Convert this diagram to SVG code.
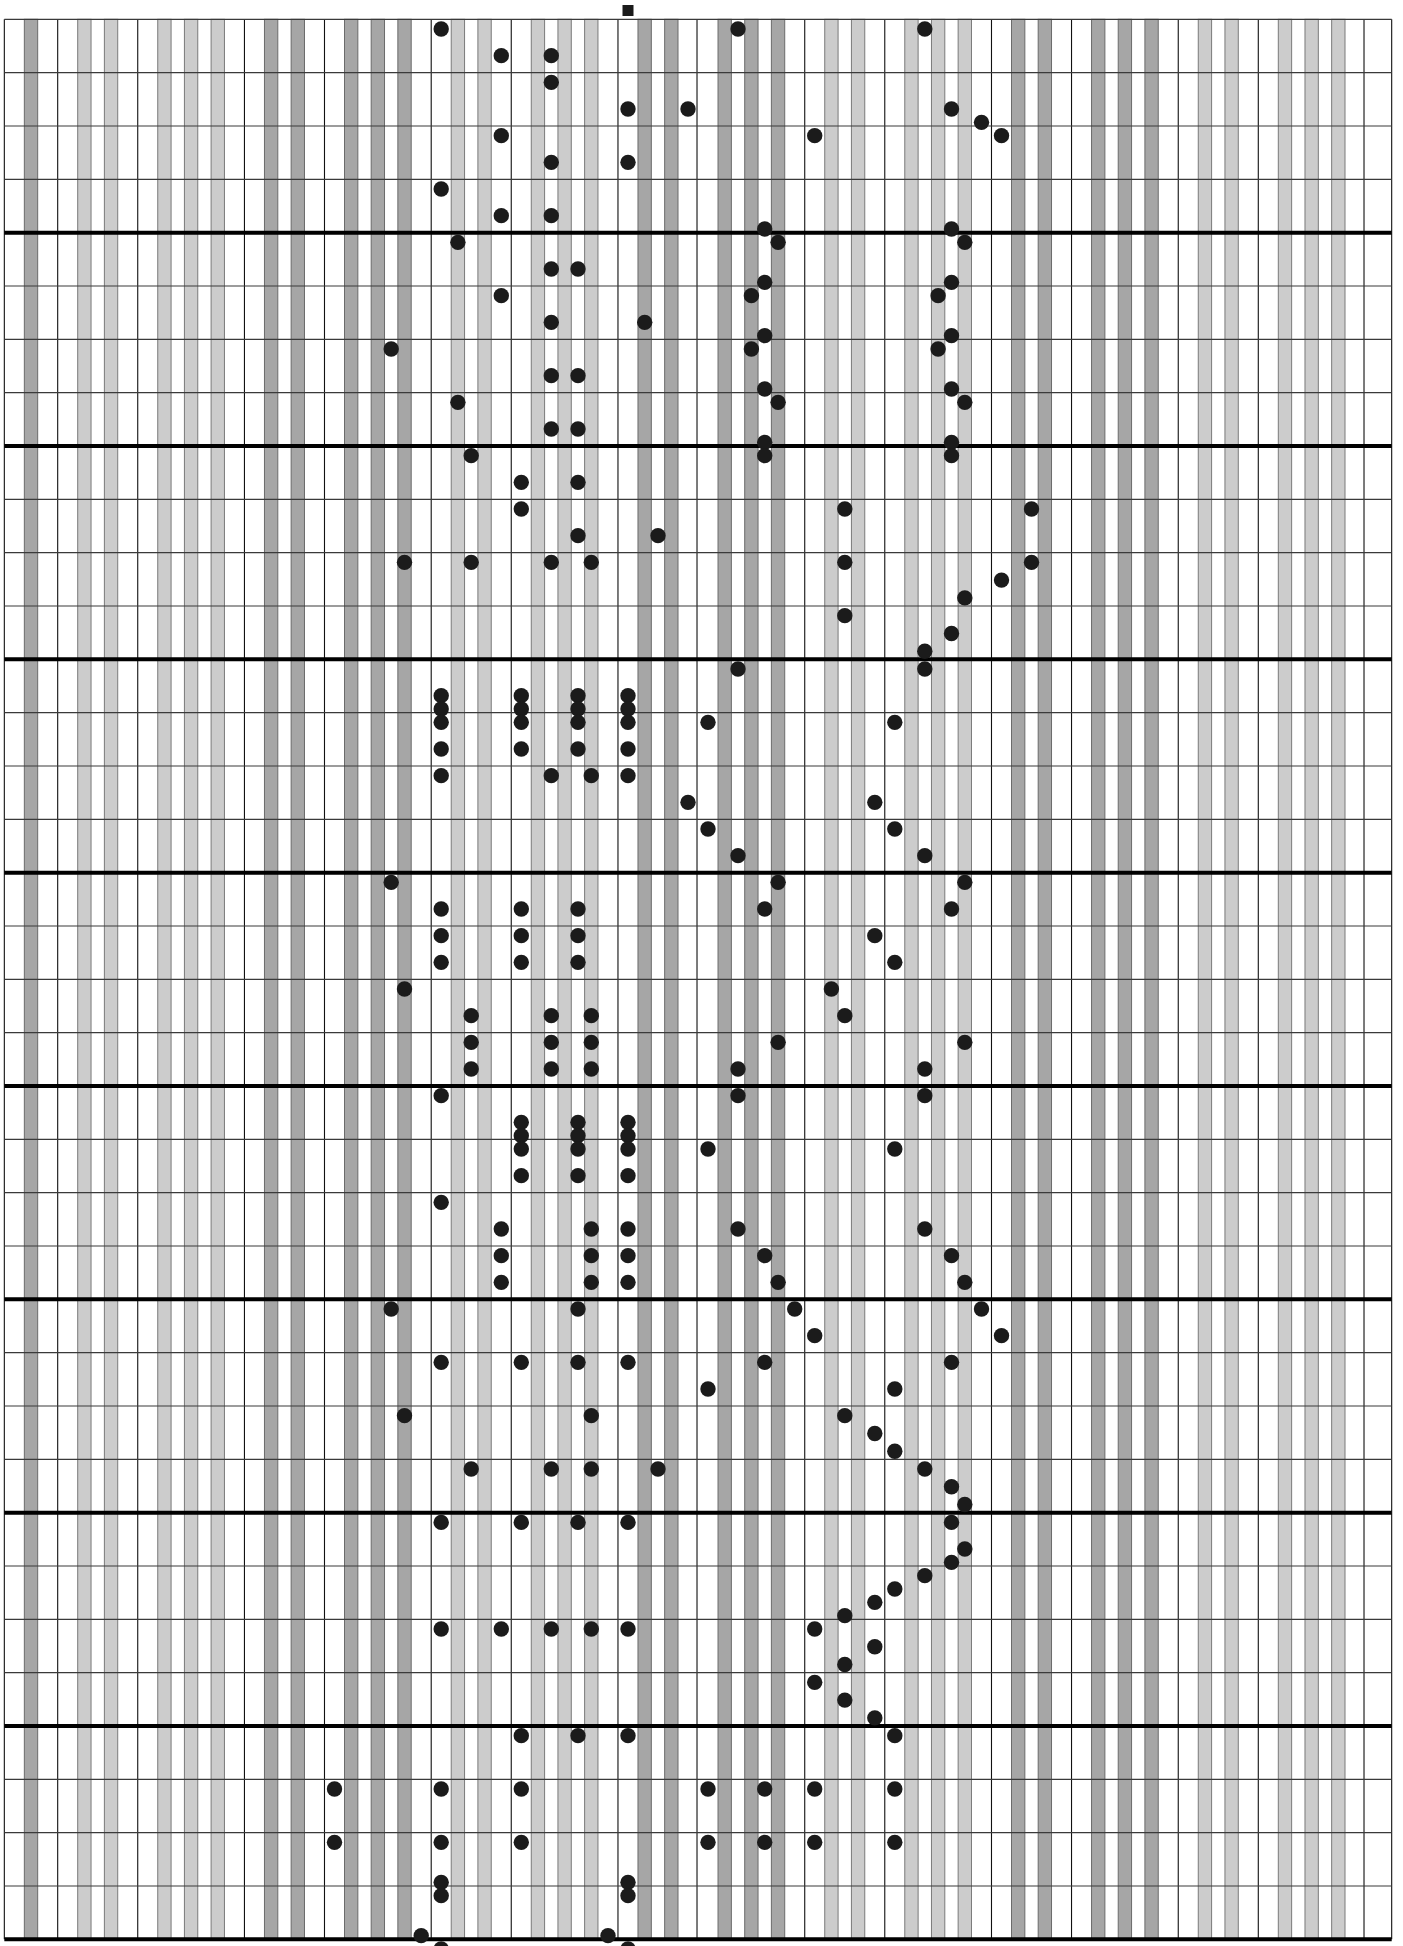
<svg xmlns="http://www.w3.org/2000/svg" width="1403" height="1946" viewBox="0 0 1403 1946">
<style>
.sd{fill:#a6a6a6;stroke:#6b6b6b;stroke-width:1}
.sl{fill:#cccccc;stroke:#7a7a7a;stroke-width:1}
.v{fill:none;stroke:#111;stroke-width:1.1}
.h{fill:none;stroke:#3a3a3a;stroke-width:1.1}
.hb{fill:none;stroke:#000;stroke-width:4}
.n{fill:#1b1b1b}
</style>
<defs><circle id="d" r="7.7" class="n"/></defs>
<rect x="0" y="0" width="1403" height="1946" fill="#fff"/>
<g id="stripes">
<rect class="sd" x="24.34" y="19.33" width="13.34" height="1920"/>
<rect class="sl" x="77.70" y="19.33" width="13.34" height="1920"/>
<rect class="sl" x="104.38" y="19.33" width="13.34" height="1920"/>
<rect class="sl" x="157.74" y="19.33" width="13.34" height="1920"/>
<rect class="sl" x="184.42" y="19.33" width="13.34" height="1920"/>
<rect class="sl" x="211.10" y="19.33" width="13.34" height="1920"/>
<rect class="sd" x="264.46" y="19.33" width="13.34" height="1920"/>
<rect class="sd" x="291.14" y="19.33" width="13.34" height="1920"/>
<rect class="sd" x="344.50" y="19.33" width="13.34" height="1920"/>
<rect class="sd" x="371.18" y="19.33" width="13.34" height="1920"/>
<rect class="sd" x="397.86" y="19.33" width="13.34" height="1920"/>
<rect class="sl" x="451.22" y="19.33" width="13.34" height="1920"/>
<rect class="sl" x="477.90" y="19.33" width="13.34" height="1920"/>
<rect class="sl" x="531.26" y="19.33" width="13.34" height="1920"/>
<rect class="sl" x="557.94" y="19.33" width="13.34" height="1920"/>
<rect class="sl" x="584.62" y="19.33" width="13.34" height="1920"/>
<rect class="sd" x="637.98" y="19.33" width="13.34" height="1920"/>
<rect class="sd" x="664.66" y="19.33" width="13.34" height="1920"/>
<rect class="sd" x="718.02" y="19.33" width="13.34" height="1920"/>
<rect class="sd" x="744.70" y="19.33" width="13.34" height="1920"/>
<rect class="sd" x="771.38" y="19.33" width="13.34" height="1920"/>
<rect class="sl" x="824.74" y="19.33" width="13.34" height="1920"/>
<rect class="sl" x="851.42" y="19.33" width="13.34" height="1920"/>
<rect class="sl" x="904.78" y="19.33" width="13.34" height="1920"/>
<rect class="sl" x="931.46" y="19.33" width="13.34" height="1920"/>
<rect class="sl" x="958.14" y="19.33" width="13.34" height="1920"/>
<rect class="sd" x="1011.50" y="19.33" width="13.34" height="1920"/>
<rect class="sd" x="1038.18" y="19.33" width="13.34" height="1920"/>
<rect class="sd" x="1091.54" y="19.33" width="13.34" height="1920"/>
<rect class="sd" x="1118.22" y="19.33" width="13.34" height="1920"/>
<rect class="sd" x="1144.90" y="19.33" width="13.34" height="1920"/>
<rect class="sl" x="1198.26" y="19.33" width="13.34" height="1920"/>
<rect class="sl" x="1224.94" y="19.33" width="13.34" height="1920"/>
<rect class="sl" x="1278.30" y="19.33" width="13.34" height="1920"/>
<rect class="sl" x="1304.98" y="19.33" width="13.34" height="1920"/>
<rect class="sl" x="1331.66" y="19.33" width="13.34" height="1920"/>
</g>
<g id="grid">
<path class="v" d="M4.33 19.33V1939.33M57.69 19.33V1939.33M137.73 19.33V1939.33M244.45 19.33V1939.33M324.49 19.33V1939.33M431.21 19.33V1939.33M511.25 19.33V1939.33M617.97 19.33V1939.33M697.01 19.33V1939.33M804.73 19.33V1939.33M884.77 19.33V1939.33M991.49 19.33V1939.33M1071.53 19.33V1939.33M1178.25 19.33V1939.33M1258.29 19.33V1939.33M1364.01 19.33V1939.33M1391.69 19.33V1939.33"/>
<path class="h" d="M4.33 19.33H1391.69M4.33 72.67H1391.69M4.33 126H1391.69M4.33 179.33H1391.69M4.33 286H1391.69M4.33 339.33H1391.69M4.33 392.67H1391.69M4.33 499.33H1391.69M4.33 552.67H1391.69M4.33 606H1391.69M4.33 712.67H1391.69M4.33 766H1391.69M4.33 819.33H1391.69M4.33 926H1391.69M4.33 979.33H1391.69M4.33 1032.67H1391.69M4.33 1139.33H1391.69M4.33 1192.67H1391.69M4.33 1246H1391.69M4.33 1352.67H1391.69M4.33 1406H1391.69M4.33 1459.33H1391.69M4.33 1566H1391.69M4.33 1619.33H1391.69M4.33 1672.67H1391.69M4.33 1779.33H1391.69M4.33 1832.67H1391.69M4.33 1886H1391.69"/>
<path class="hb" d="M4.33 232.67H1391.69M4.33 446H1391.69M4.33 659.33H1391.69M4.33 872.67H1391.69M4.33 1086H1391.69M4.33 1299.33H1391.69M4.33 1512.67H1391.69M4.33 1726H1391.69M4.33 1939.33H1391.69"/>
</g>
<rect id="marker" x="622.5" y="5" width="11" height="11" class="n"/>
<g id="notes">
<use href="#d" x="441.2" y="29"/><use href="#d" x="738.0" y="29"/><use href="#d" x="924.8" y="29"/>
<use href="#d" x="501.3" y="55.67"/><use href="#d" x="551.3" y="55.67"/>
<use href="#d" x="551.3" y="82.33"/>
<use href="#d" x="628.0" y="109"/><use href="#d" x="688.0" y="109"/><use href="#d" x="951.5" y="109"/>
<use href="#d" x="981.5" y="122.33"/>
<use href="#d" x="501.3" y="135.67"/><use href="#d" x="814.7" y="135.67"/><use href="#d" x="1001.5" y="135.67"/>
<use href="#d" x="551.3" y="162.33"/><use href="#d" x="628.0" y="162.33"/>
<use href="#d" x="441.2" y="189"/>
<use href="#d" x="501.3" y="215.67"/><use href="#d" x="551.3" y="215.67"/>
<use href="#d" x="764.7" y="229"/><use href="#d" x="951.5" y="229"/>
<use href="#d" x="457.9" y="242.33"/><use href="#d" x="778.1" y="242.33"/><use href="#d" x="964.8" y="242.33"/>
<use href="#d" x="551.3" y="269"/><use href="#d" x="578.0" y="269"/>
<use href="#d" x="764.7" y="282.33"/><use href="#d" x="951.5" y="282.33"/>
<use href="#d" x="501.3" y="295.67"/><use href="#d" x="751.4" y="295.67"/><use href="#d" x="938.1" y="295.67"/>
<use href="#d" x="551.3" y="322.33"/><use href="#d" x="644.7" y="322.33"/>
<use href="#d" x="764.7" y="335.67"/><use href="#d" x="951.5" y="335.67"/>
<use href="#d" x="391.2" y="349"/><use href="#d" x="751.4" y="349"/><use href="#d" x="938.1" y="349"/>
<use href="#d" x="551.3" y="375.67"/><use href="#d" x="578.0" y="375.67"/>
<use href="#d" x="764.7" y="389"/><use href="#d" x="951.5" y="389"/>
<use href="#d" x="457.9" y="402.33"/><use href="#d" x="778.1" y="402.33"/><use href="#d" x="964.8" y="402.33"/>
<use href="#d" x="551.3" y="429"/><use href="#d" x="578.0" y="429"/>
<use href="#d" x="764.7" y="442.33"/><use href="#d" x="951.5" y="442.33"/>
<use href="#d" x="471.2" y="455.67"/><use href="#d" x="764.7" y="455.67"/><use href="#d" x="951.5" y="455.67"/>
<use href="#d" x="521.3" y="482.33"/><use href="#d" x="578.0" y="482.33"/>
<use href="#d" x="521.3" y="509"/><use href="#d" x="844.8" y="509"/><use href="#d" x="1031.5" y="509"/>
<use href="#d" x="578.0" y="535.67"/><use href="#d" x="658.0" y="535.67"/>
<use href="#d" x="404.5" y="562.33"/><use href="#d" x="471.2" y="562.33"/><use href="#d" x="551.3" y="562.33"/><use href="#d" x="591.3" y="562.33"/><use href="#d" x="844.8" y="562.33"/><use href="#d" x="1031.5" y="562.33"/>
<use href="#d" x="1001.5" y="580.11"/>
<use href="#d" x="964.8" y="597.89"/>
<use href="#d" x="844.8" y="615.67"/>
<use href="#d" x="951.5" y="633.44"/>
<use href="#d" x="924.8" y="651.22"/>
<use href="#d" x="738.0" y="669"/><use href="#d" x="924.8" y="669"/>
<use href="#d" x="441.2" y="695.67"/><use href="#d" x="521.3" y="695.67"/><use href="#d" x="578.0" y="695.67"/><use href="#d" x="628.0" y="695.67"/>
<use href="#d" x="441.2" y="709"/><use href="#d" x="521.3" y="709"/><use href="#d" x="578.0" y="709"/><use href="#d" x="628.0" y="709"/>
<use href="#d" x="441.2" y="722.33"/><use href="#d" x="521.3" y="722.33"/><use href="#d" x="578.0" y="722.33"/><use href="#d" x="628.0" y="722.33"/><use href="#d" x="708.0" y="722.33"/><use href="#d" x="894.8" y="722.33"/>
<use href="#d" x="441.2" y="749"/><use href="#d" x="521.3" y="749"/><use href="#d" x="578.0" y="749"/><use href="#d" x="628.0" y="749"/>
<use href="#d" x="441.2" y="775.67"/><use href="#d" x="551.3" y="775.67"/><use href="#d" x="591.3" y="775.67"/><use href="#d" x="628.0" y="775.67"/>
<use href="#d" x="688.0" y="802.33"/><use href="#d" x="874.8" y="802.33"/>
<use href="#d" x="708.0" y="829"/><use href="#d" x="894.8" y="829"/>
<use href="#d" x="738.0" y="855.67"/><use href="#d" x="924.8" y="855.67"/>
<use href="#d" x="391.2" y="882.33"/><use href="#d" x="778.1" y="882.33"/><use href="#d" x="964.8" y="882.33"/>
<use href="#d" x="441.2" y="909"/><use href="#d" x="521.3" y="909"/><use href="#d" x="578.0" y="909"/><use href="#d" x="764.7" y="909"/><use href="#d" x="951.5" y="909"/>
<use href="#d" x="441.2" y="935.67"/><use href="#d" x="521.3" y="935.67"/><use href="#d" x="578.0" y="935.67"/><use href="#d" x="874.8" y="935.67"/>
<use href="#d" x="441.2" y="962.33"/><use href="#d" x="521.3" y="962.33"/><use href="#d" x="578.0" y="962.33"/><use href="#d" x="894.8" y="962.33"/>
<use href="#d" x="404.5" y="989"/><use href="#d" x="831.4" y="989"/>
<use href="#d" x="471.2" y="1015.67"/><use href="#d" x="551.3" y="1015.67"/><use href="#d" x="591.3" y="1015.67"/><use href="#d" x="844.8" y="1015.67"/>
<use href="#d" x="471.2" y="1042.33"/><use href="#d" x="551.3" y="1042.33"/><use href="#d" x="591.3" y="1042.33"/><use href="#d" x="778.1" y="1042.33"/><use href="#d" x="964.8" y="1042.33"/>
<use href="#d" x="471.2" y="1069"/><use href="#d" x="551.3" y="1069"/><use href="#d" x="591.3" y="1069"/><use href="#d" x="738.0" y="1069"/><use href="#d" x="924.8" y="1069"/>
<use href="#d" x="441.2" y="1095.67"/><use href="#d" x="738.0" y="1095.67"/><use href="#d" x="924.8" y="1095.67"/>
<use href="#d" x="521.3" y="1122.33"/><use href="#d" x="578.0" y="1122.33"/><use href="#d" x="628.0" y="1122.33"/>
<use href="#d" x="521.3" y="1135.67"/><use href="#d" x="578.0" y="1135.67"/><use href="#d" x="628.0" y="1135.67"/>
<use href="#d" x="521.3" y="1149"/><use href="#d" x="578.0" y="1149"/><use href="#d" x="628.0" y="1149"/><use href="#d" x="708.0" y="1149"/><use href="#d" x="894.8" y="1149"/>
<use href="#d" x="521.3" y="1175.67"/><use href="#d" x="578.0" y="1175.67"/><use href="#d" x="628.0" y="1175.67"/>
<use href="#d" x="441.2" y="1202.33"/>
<use href="#d" x="501.3" y="1229"/><use href="#d" x="591.3" y="1229"/><use href="#d" x="628.0" y="1229"/><use href="#d" x="738.0" y="1229"/><use href="#d" x="924.8" y="1229"/>
<use href="#d" x="501.3" y="1255.67"/><use href="#d" x="591.3" y="1255.67"/><use href="#d" x="628.0" y="1255.67"/><use href="#d" x="764.7" y="1255.67"/><use href="#d" x="951.5" y="1255.67"/>
<use href="#d" x="501.3" y="1282.33"/><use href="#d" x="591.3" y="1282.33"/><use href="#d" x="628.0" y="1282.33"/><use href="#d" x="778.1" y="1282.33"/><use href="#d" x="964.8" y="1282.33"/>
<use href="#d" x="391.2" y="1309"/><use href="#d" x="578.0" y="1309"/><use href="#d" x="794.7" y="1309"/><use href="#d" x="981.5" y="1309"/>
<use href="#d" x="814.7" y="1335.67"/><use href="#d" x="1001.5" y="1335.67"/>
<use href="#d" x="441.2" y="1362.33"/><use href="#d" x="521.3" y="1362.33"/><use href="#d" x="578.0" y="1362.33"/><use href="#d" x="628.0" y="1362.33"/><use href="#d" x="764.7" y="1362.33"/><use href="#d" x="951.5" y="1362.33"/>
<use href="#d" x="708.0" y="1389"/><use href="#d" x="894.8" y="1389"/>
<use href="#d" x="404.5" y="1415.67"/><use href="#d" x="591.3" y="1415.67"/><use href="#d" x="844.8" y="1415.67"/>
<use href="#d" x="874.8" y="1433.44"/>
<use href="#d" x="894.8" y="1451.22"/>
<use href="#d" x="471.2" y="1469"/><use href="#d" x="551.3" y="1469"/><use href="#d" x="591.3" y="1469"/><use href="#d" x="658.0" y="1469"/><use href="#d" x="924.8" y="1469"/>
<use href="#d" x="951.5" y="1486.78"/>
<use href="#d" x="964.8" y="1504.56"/>
<use href="#d" x="441.2" y="1522.33"/><use href="#d" x="521.3" y="1522.33"/><use href="#d" x="578.0" y="1522.33"/><use href="#d" x="628.0" y="1522.33"/><use href="#d" x="951.5" y="1522.33"/>
<use href="#d" x="964.8" y="1549"/>
<use href="#d" x="951.5" y="1562.33"/>
<use href="#d" x="924.8" y="1575.67"/>
<use href="#d" x="894.8" y="1589"/>
<use href="#d" x="874.8" y="1602.33"/>
<use href="#d" x="844.8" y="1615.67"/>
<use href="#d" x="441.2" y="1629"/><use href="#d" x="501.3" y="1629"/><use href="#d" x="551.3" y="1629"/><use href="#d" x="591.3" y="1629"/><use href="#d" x="628.0" y="1629"/><use href="#d" x="814.7" y="1629"/>
<use href="#d" x="874.8" y="1646.78"/>
<use href="#d" x="844.8" y="1664.56"/>
<use href="#d" x="814.7" y="1682.33"/>
<use href="#d" x="844.8" y="1700.11"/>
<use href="#d" x="874.8" y="1717.89"/>
<use href="#d" x="521.3" y="1735.67"/><use href="#d" x="578.0" y="1735.67"/><use href="#d" x="628.0" y="1735.67"/><use href="#d" x="894.8" y="1735.67"/>
<use href="#d" x="334.5" y="1789"/><use href="#d" x="441.2" y="1789"/><use href="#d" x="521.3" y="1789"/><use href="#d" x="708.0" y="1789"/><use href="#d" x="764.7" y="1789"/><use href="#d" x="814.7" y="1789"/><use href="#d" x="894.8" y="1789"/>
<use href="#d" x="334.5" y="1842.33"/><use href="#d" x="441.2" y="1842.33"/><use href="#d" x="521.3" y="1842.33"/><use href="#d" x="708.0" y="1842.33"/><use href="#d" x="764.7" y="1842.33"/><use href="#d" x="814.7" y="1842.33"/><use href="#d" x="894.8" y="1842.33"/>
<use href="#d" x="441.2" y="1882.33"/><use href="#d" x="628.0" y="1882.33"/>
<use href="#d" x="441.2" y="1895.67"/><use href="#d" x="628.0" y="1895.67"/>
<use href="#d" x="421.2" y="1935.67"/><use href="#d" x="608.0" y="1935.67"/>
<use href="#d" x="441.2" y="1949"/><use href="#d" x="628.0" y="1949"/>
</g>
</svg>
